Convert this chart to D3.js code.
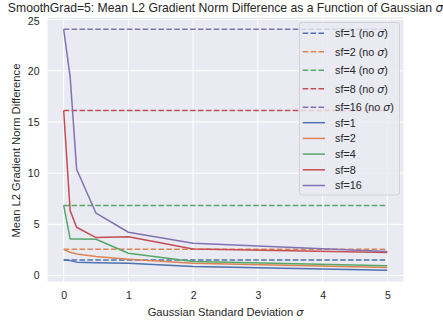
<!DOCTYPE html>
<html>
<head>
<meta charset="utf-8">
<script src="https://cdn.jsdelivr.net/npm/d3@7"></script>
<style>
  html, body { margin: 0; padding: 0; background: #ffffff; }
  svg { display: block; font-family: "Liberation Sans", Arial, sans-serif; }
</style>
</head>
<body>
<svg id="chart" width="443" height="323"></svg>
<script>
// Gaussian standard deviations evaluated
const sigmas = [0, 0.1, 0.2, 0.5, 1, 2, 5];

// Scale factors and their baseline (no sigma) values
const scaleFactors = [1, 2, 4, 8, 16];
const baselineNoSigma = [1.52, 2.56, 6.85, 16.12, 24.05];

// Mean L2 gradient norm difference per scale factor, one value per sigma
const sf1 = [1.52, 1.46, 1.31, 1.26, 1.21, 0.88, 0.52];
const sf2 = [2.56, 2.28, 2.10, 1.85, 1.60, 1.21, 0.78];
const sf4 = [6.85, 3.58, 3.57, 3.55, 2.18, 1.37, 0.95];
const sf8 = [16.12, 6.34, 4.72, 3.71, 3.80, 2.60, 2.26];
const sf16 = [24.05, 19.4, 10.38, 6.09, 4.23, 3.16, 2.36];
const seriesValues = [sf1, sf2, sf4, sf8, sf16];

const xTicks = [0, 1, 2, 3, 4, 5];
const yTicks = [0, 5, 10, 15, 20, 25];

const palette = ["#4C72B0", "#DD8452", "#55A868", "#C44E52", "#8172B3"];

const svg = d3.select("#chart");
const plot = { left: 47.5, right: 403.5, top: 17.5, bottom: 281.7 };

const x = d3.scaleLinear().domain([-0.25, 5.25]).range([plot.left, plot.right]);
const y = d3.scaleLinear().domain([-0.6, 25.2]).range([plot.bottom, plot.top]);

// Axes background
svg.append("rect")
  .attr("x", plot.left).attr("y", plot.top)
  .attr("width", plot.right - plot.left).attr("height", plot.bottom - plot.top)
  .attr("fill", "#EAEAF2");

// Grid lines
const grid = svg.append("g");
grid.selectAll(".gx").data(xTicks).join("line")
  .attr("x1", d => x(d)).attr("x2", d => x(d))
  .attr("y1", plot.top).attr("y2", plot.bottom)
  .attr("stroke", "#ffffff").attr("stroke-width", 1);
grid.selectAll(".gy").data(yTicks).join("line")
  .attr("x1", plot.left).attr("x2", plot.right)
  .attr("y1", d => y(d)).attr("y2", d => y(d))
  .attr("stroke", "#ffffff").attr("stroke-width", 1);

// Tick labels via d3 axes, without domain and tick marks
const xAxis = svg.append("g")
  .attr("transform", `translate(0,${plot.bottom})`)
  .call(d3.axisBottom(x).tickValues(xTicks).tickFormat(d3.format("d")).tickSize(0).tickPadding(10));
const yAxis = svg.append("g")
  .attr("transform", `translate(${plot.left},0)`)
  .call(d3.axisLeft(y).tickValues(yTicks).tickFormat(d3.format("d")).tickSize(0).tickPadding(8));
[xAxis, yAxis].forEach(a => {
  a.select(".domain").remove();
  a.selectAll("text")
    .attr("font-size", 10.5)
    .attr("font-family", "'Liberation Sans', Arial, sans-serif")
    .attr("fill", "#262626");
});
// keep the top label clear of the title
yAxis.selectAll(".tick").filter(d => d === 25).select("text").attr("dy", "0.5em");

svg.append("clipPath").attr("id", "plotclip")
  .append("rect")
  .attr("x", plot.left).attr("y", plot.top)
  .attr("width", plot.right - plot.left).attr("height", plot.bottom - plot.top);

const line = d3.line().x(d => x(d[0])).y(d => y(d[1]));
const lines = svg.append("g").attr("clip-path", "url(#plotclip)");

// Dashed baselines (no sigma)
baselineNoSigma.forEach((v, i) => {
  lines.append("path")
    .datum([[sigmas[0], v], [sigmas[sigmas.length - 1], v]])
    .attr("d", line)
    .attr("fill", "none")
    .attr("stroke", palette[i])
    .attr("stroke-width", 1.5)
    .attr("stroke-dasharray", "5.5,2.4");
});

// Solid curves over sigma
seriesValues.forEach((vals, i) => {
  lines.append("path")
    .datum(sigmas.map((s, j) => [s, vals[j]]))
    .attr("d", line)
    .attr("fill", "none")
    .attr("stroke", palette[i])
    .attr("stroke-width", 1.5)
    .attr("stroke-linejoin", "round");
});

// Title
const title = svg.append("text")
  .attr("x", (plot.left + plot.right) / 2).attr("y", 11.5)
  .attr("text-anchor", "middle")
  .attr("font-size", 12.2)
  .attr("fill", "#262626");
title.append("tspan").text("SmoothGrad=5: Mean L2 Gradient Norm Difference as a Function of Gaussian ");
title.append("tspan").attr("font-style", "italic").attr("font-family", "'DejaVu Sans', sans-serif").text("σ");

// Axis labels
const xl = svg.append("text")
  .attr("x", (plot.left + plot.right) / 2).attr("y", 316)
  .attr("text-anchor", "middle")
  .attr("font-size", 11.2)
  .attr("fill", "#262626");
xl.append("tspan").text("Gaussian Standard Deviation ");
xl.append("tspan").attr("font-style", "italic").attr("font-family", "'DejaVu Sans', sans-serif").text("σ");

svg.append("text")
  .attr("transform", `translate(19.5,${(plot.top + plot.bottom) / 2 + 1}) rotate(-90)`)
  .attr("text-anchor", "middle")
  .attr("font-size", 11.2)
  .attr("fill", "#262626")
  .text("Mean L2 Gradient Norm Difference");

// Legend
const legendEntries = [
  ...scaleFactors.map((sf, i) => ({ label: `sf=${sf} (no `, sigma: true, color: palette[i], dashed: true })),
  ...scaleFactors.map((sf, i) => ({ label: `sf=${sf}`, sigma: false, color: palette[i], dashed: false }))
];
const legendBox = { x: 299.5, y: 22.5, w: 100, h: 172.5 };
const legend = svg.append("g");
legend.append("rect")
  .attr("x", legendBox.x).attr("y", legendBox.y)
  .attr("width", legendBox.w).attr("height", legendBox.h)
  .attr("rx", 2.5)
  .attr("fill", "#EAEAF2").attr("fill-opacity", 0.8)
  .attr("stroke", "#CCCCCC").attr("stroke-width", 0.8);

let rowY = 33.3;
legendEntries.forEach((e, i) => {
  if (i > 0) rowY += (legendEntries[i - 1].sigma ? 18.5 : 15.7);
  if (i === 5) rowY = 122.7;
  legend.append("line")
    .attr("x1", 302.7).attr("x2", 325)
    .attr("y1", rowY).attr("y2", rowY)
    .attr("stroke", e.color).attr("stroke-width", 1.5)
    .attr("stroke-dasharray", e.dashed ? "5.5,2.4" : null);
  const t = legend.append("text")
    .attr("x", 335).attr("y", rowY + 3.9)
    .attr("font-size", 10.8)
    .attr("fill", "#262626");
  t.append("tspan").text(e.label);
  if (e.sigma) {
    t.append("tspan").attr("font-style", "italic").attr("font-family", "'DejaVu Sans', sans-serif").text("σ");
    t.append("tspan").text(")");
  }
});
</script>
</body>
</html>
